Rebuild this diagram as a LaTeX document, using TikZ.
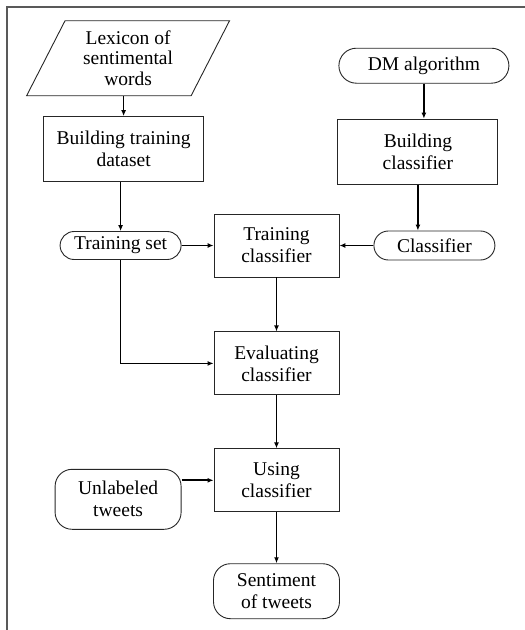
\documentclass[tikz,border=0pt]{standalone}
\usepackage{fontspec}
\setmainfont{Liberation Serif}
\usetikzlibrary{arrows.meta, positioning, shapes.geometric, shapes.misc}

\begin{document}
\begin{tikzpicture}[
  x=1pt, y=1pt,
  node distance=20pt and 32pt,
  every node/.style={font=\fontsize{19.5}{22}\selectfont, align=center},
  proc/.style={rectangle, draw=black!85, line width=0.9pt,
               minimum width=125pt, minimum height=63pt},
  wideproc/.style={proc, minimum width=160pt, minimum height=65pt},
  term/.style={rounded rectangle, draw=black!85, line width=0.9pt,
               minimum width=125pt, minimum height=29pt, inner sep=2pt},
  soft/.style={rectangle, rounded corners=17pt, draw=black!85, line width=0.9pt,
               minimum width=126pt, minimum height=58pt},
  lexin/.style={trapezium, trapezium left angle=63, trapezium right angle=117,
                trapezium stretches=true, draw=black!85, line width=0.9pt,
                minimum width=203pt, minimum height=75pt,
                font=\fontsize{19.5}{20.5}\selectfont,
                inner xsep=1pt, inner ysep=0pt},
  arrow/.style={-{Latex[length=6pt, width=5pt]}, line width=1.7pt},
]
\useasboundingbox (0,0) rectangle (525,-630);
\draw[black!65, line width=1.5pt] (7,-630) -- (7,-7) -- (525,-7);

\node[proc] (tcl) at (276.5,-245.5) {Training\\classifier};
\node[proc, below=54pt of tcl] (ecl) {Evaluating\\classifier};
\node[proc, below=53pt of ecl] (ucl) {Using\\classifier};
\node[soft, below=51pt of ucl, minimum height=55pt] (sen) {Sentiment\\of tweets};
\node[soft, left=32pt of ucl, yshift=-19pt, minimum height=60pt] (ulw) {Unlabeled\\tweets};
\node[term, left=32pt of tcl, minimum height=28pt] (tset) {Training set};
\node[term, right=34pt of tcl] (clf) {Classifier};
\node[wideproc, above=49pt of tset, xshift=3pt] (btd) {Building training\\dataset};
\node[lexin, above=20pt of btd, xshift=4.5pt] (lex) {Lexicon of\\sentimental\\words};
\node[wideproc, above=46pt of clf, xshift=-16.5pt] (bcl) {Building\\classifier};
\node[term, above=35pt of bcl, xshift=6pt, minimum width=174pt, minimum height=35pt] (dm) {DM algorithm};

\draw[arrow] (btd.north |- lex.south) -- (btd.north);
\draw[arrow] (tset.north |- btd.south) -- (tset.north);
\draw[arrow] (dm.south) -- (dm.south |- bcl.north);
\draw[arrow] (bcl.south) -- (bcl.south |- clf.north);
\draw[arrow] (tset.east) -- (tset.east -| tcl.west);
\draw[arrow] (clf.west) -- (clf.west -| tcl.east);
\draw[arrow] (tcl) -- (ecl);
\draw[arrow] (tset.south) |- (ecl.west);
\draw[arrow] (ecl) -- (ucl);
\draw[arrow] (ulw.east |- ucl.west) -- (ucl.west);
\draw[arrow] (ucl) -- (sen);
\end{tikzpicture}
\end{document}
